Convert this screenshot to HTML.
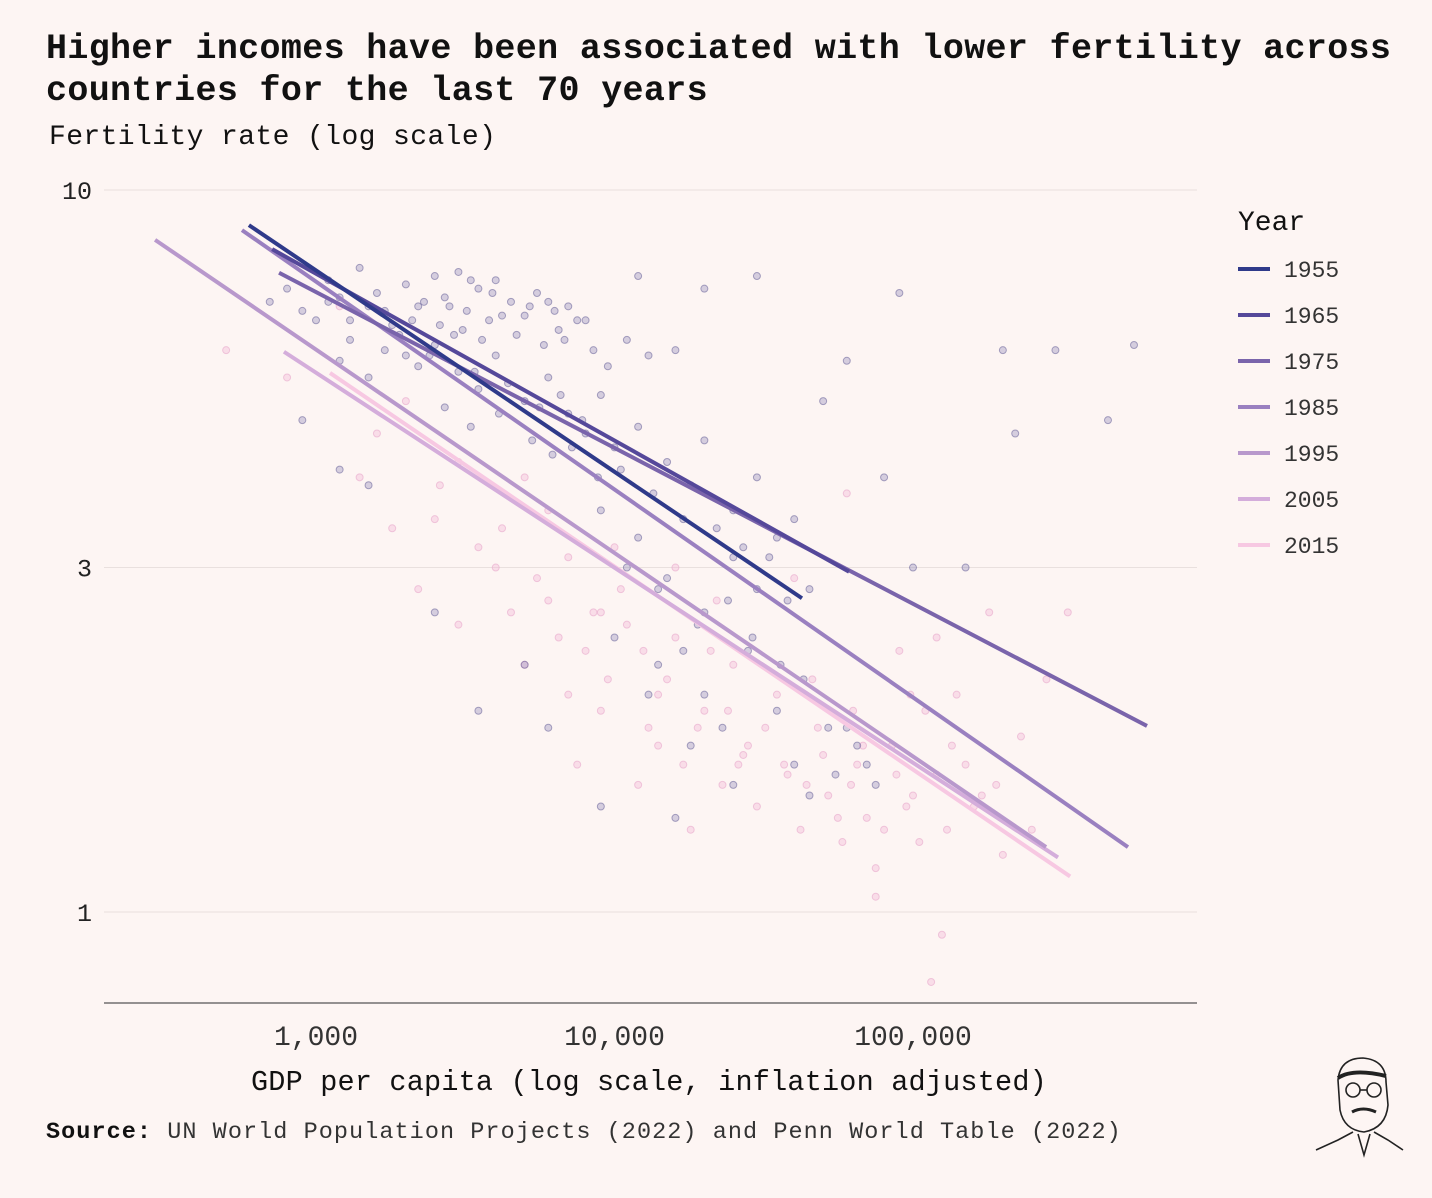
<!DOCTYPE html>
<html><head><meta charset="utf-8"><style>
html,body{margin:0;padding:0;background:#fdf5f3;}
body{width:1432px;height:1198px;overflow:hidden;position:relative;font-family:"Liberation Mono",monospace;color:#111;}
.t{position:absolute;white-space:nowrap;}
</style></head><body>
<div class="t" style="left:46px;top:28px;font-size:35px;font-weight:bold;line-height:42px;letter-spacing:0.35px;">Higher incomes have been associated with lower fertility across<br>countries for the last 70 years</div>
<div class="t" style="left:49px;top:122px;font-size:28px;letter-spacing:0.4px;">Fertility rate (log scale)</div>
<svg id="chart" width="1432" height="1198" style="position:absolute;left:0;top:0" xmlns="http://www.w3.org/2000/svg"></svg>
<div class="t" style="left:251px;top:1066px;font-size:28.5px;letter-spacing:0.2px;">GDP per capita (log scale, inflation adjusted)</div>
<div class="t" style="left:46px;top:1119px;font-size:23.5px;color:#333;letter-spacing:1.05px;"><b style="color:#111">Source:</b> UN World Population Projects (2022) and Penn World Table (2022)</div>
<svg width="100" height="110" style="position:absolute;left:1308px;top:1050px" viewBox="0 0 100 110">
<g fill="none" stroke="#222" stroke-width="1.6">
<path d="M30 30 Q32 8 55 8 Q78 10 78 32 L80 55 Q78 78 56 82 Q36 80 32 60 Z"/>
<path d="M30 28 Q45 18 78 26" stroke-width="4"/>
<circle cx="45" cy="40" r="7"/><circle cx="66" cy="40" r="7"/><path d="M52 40 L59 40"/>
<path d="M44 62 Q55 56 68 62" stroke-width="3"/>
<path d="M45 82 L30 90 L8 100 M66 82 L80 90 L95 100 M50 84 L56 105 L62 84"/>
</g></svg>
<script>
const years=["1955","1965","1975","1985","1995","2005","2015"];
const colors=["#2f3a8a","#55489a","#7a64ab","#9a80c0","#b898cc","#d4addb","#f7c8e2"];
const lineGdpStart=[596,713,752,565,289,781,1114];
const lineFertStart=[8.94,8.28,7.68,8.80,8.53,5.97,5.58];
const lineGdpEnd=[42460,61080,608000,525000,279000,306000,336000];
const lineFertEnd=[2.72,2.96,1.81,1.23,1.23,1.19,1.12];
const xTicks=[1000,10000,100000];
const xTickLabels=["1,000","10,000","100,000"];
const yTicks=[10,3,1];
const yTickLabels=["10","3","1"];
const earlyGdp=[700,800,900,1100,1200,1300,1400,1500,1600,1800,2000,2200,2500,2700,3000,3200,3500,3800,4000,4500,5000,5500,6000,6500,7000,8000,12000,20000,16000,1200,1500,2000,2500,3000,3500,4000,5000,6000,7000,8000,9000,10000,12000,15000,18000,20000,25000,30000,35000,40000,25000,30000,20000,15000,12000,9000,10000,14000,20000,28000,35000,40000,45000,55000,60000,70000,2500,3500,1200,1500,900,50000,60000,90000,200000,300000,150000,550000,450000,220000,80000,30000,100000,45000,25000,18000,9000,6000,5000,16000,
 1000,1100,1300,1700,1900,2100,2300,2600,2800,3100,3300,3600,3900,4200,4700,5200,5800,6300,6800,7500,8500,9500,11000,13000,2400,2900,3400,4400,5600,6600,7800,1700,2200,2700,3300,4100,5300,6200,7200,8800,10500,13500,17000,22000,27000,33000,38000,11000,14000,19000,24000,29000,36000,43000,52000,65000,75000,13000,17000,23000];
const earlyFert=[7.0,7.3,6.8,7.5,7.1,6.6,7.8,6.9,7.2,6.5,7.4,6.9,7.6,7.1,7.7,6.8,7.3,6.6,7.5,7.0,6.7,7.2,7.0,6.4,6.9,6.6,7.6,7.3,6.0,5.8,5.5,5.9,6.1,5.6,5.3,5.9,5.1,5.5,4.9,4.6,5.2,4.4,4.7,4.2,3.9,4.5,3.6,4.0,3.3,3.5,3.1,2.8,2.6,2.9,3.3,3.6,2.4,2.2,2.0,2.3,1.9,1.6,1.45,1.55,1.8,1.6,2.6,1.9,4.1,3.9,4.8,5.1,5.8,7.2,6.0,6.0,3.0,6.1,4.8,4.6,4.0,7.6,3.0,2.8,1.5,1.7,1.4,1.8,2.2,1.35,
 6.6,7.0,6.2,6.8,6.3,6.6,7.0,6.5,6.9,6.4,7.5,6.2,7.2,6.7,6.3,6.9,6.1,6.8,6.2,6.6,6.0,5.7,6.2,5.9,5.9,6.3,5.6,5.4,5.0,5.2,4.8,6.0,5.7,5.0,4.7,4.9,4.5,4.3,4.4,4.0,4.1,3.8,3.5,3.4,3.2,3.1,2.7,3.0,2.8,2.5,2.7,2.4,2.2,2.1,1.8,1.7,1.5,2.0,2.3,1.8];
const lateGdp=[500,1400,1800,2200,2500,3000,4000,5000,6000,7000,8000,9000,11000,13000,15000,17000,20000,23000,25000,28000,30000,35000,38000,42000,48000,52000,58000,65000,70000,75000,85000,95000,105000,110000,120000,130000,140000,150000,170000,200000,230000,280000,330000,180000,120000,90000,60000,40000,12000,18000,22000,7500,3000,2000,1200,800,125000,115000,75000,16000,10000,6000,5000,
 1600,2600,3500,4500,5500,6500,8500,9500,10500,12500,14000,16000,19000,21000,24000,26000,32000,37000,44000,50000,56000,62000,68000,80000,88000,100000,135000,160000,190000,250000,4200,7000,9000,14000,27000,46000,63000,98000];
const lateFert=[6.0,4.0,3.4,2.8,3.5,2.5,3.0,2.2,2.7,2.0,2.3,1.9,2.5,1.8,2.1,1.6,1.9,1.5,2.2,1.7,1.4,2.0,1.55,1.3,1.8,1.45,1.25,1.6,1.35,1.15,1.7,1.4,1.25,1.9,1.55,1.3,2.0,1.6,1.45,1.2,1.75,2.1,2.6,2.6,2.4,2.3,3.8,2.9,1.5,1.3,2.7,1.6,4.2,5.1,6.9,5.5,0.93,0.8,1.05,3.0,3.2,3.6,4.0,
 4.6,3.9,3.2,2.6,2.9,2.4,2.6,2.1,2.8,2.3,1.7,2.4,1.8,2.3,1.9,1.6,1.8,1.6,1.5,1.65,1.35,1.5,1.7,1.3,1.55,1.45,1.7,1.4,1.5,1.3,3.4,3.1,2.6,2.0,1.65,2.1,1.9,2.0];

const NS="http://www.w3.org/2000/svg";
const svg=document.getElementById('chart');
const xS=v=>316+(Math.log10(v)-3)*298.5;
const yS=v=>912-Math.log10(v)*722;
function mk(tag,attrs){const e=document.createElementNS(NS,tag);for(const k in attrs)e.setAttribute(k,attrs[k]);svg.appendChild(e);return e;}
yTicks.forEach((t,i)=>{
  const g=mk('line',{x1:104,x2:1197,y1:yS(t),y2:yS(t),stroke:'#e9e0de','stroke-width':1});
  
  
  const l=mk('text',{x:92,y:yS(t)+9,'text-anchor':'end','font-size':25,'font-family':'Liberation Mono, monospace',fill:'#222'});
  l.textContent=yTickLabels[i];
  
  
});
const ax=mk('line',{x1:104,x2:1197,y1:1003,y2:1003,stroke:'#555','stroke-width':1.2});


xTicks.forEach((t,i)=>{
  const l=mk('text',{x:xS(t),y:1045,'text-anchor':'middle','font-size':28,'font-family':'Liberation Mono, monospace',fill:'#333'});
  l.textContent=xTickLabels[i];
  
  
});
lateGdp.forEach((g,i)=>{
  const c=mk('circle',{cx:xS(g),cy:yS(lateFert[i]),r:3.5,fill:'#f2b8d6','fill-opacity':0.4,stroke:'#e8a8cc','stroke-opacity':0.6,'stroke-width':1});
  
  
});
earlyGdp.forEach((g,i)=>{
  const c=mk('circle',{cx:xS(g),cy:yS(earlyFert[i]),r:3.5,fill:'#8a84b8','fill-opacity':0.35,stroke:'#5a5490','stroke-opacity':0.5,'stroke-width':1});
  
  
});
for(let i=years.length-1;i>=0;i--){
  const l=mk('line',{x1:xS(lineGdpStart[i]),y1:yS(lineFertStart[i]),x2:xS(lineGdpEnd[i]),y2:yS(lineFertEnd[i]),stroke:colors[i],'stroke-width':4});
  
  
}
const yt=mk('text',{x:1238,y:230,'font-size':28,'font-family':'Liberation Mono, monospace',fill:'#111'});
yt.textContent='Year';


years.forEach((y,i)=>{
  const yy=269+i*46;
  const s=mk('line',{x1:1238,x2:1270,y1:yy,y2:yy,stroke:colors[i],'stroke-width':4});
  
  
  const t=mk('text',{x:1284,y:yy+8,'font-size':23,'font-family':'Liberation Mono, monospace',fill:'#333'});
  t.textContent=y;
  
  
});
</script>
</body></html>
